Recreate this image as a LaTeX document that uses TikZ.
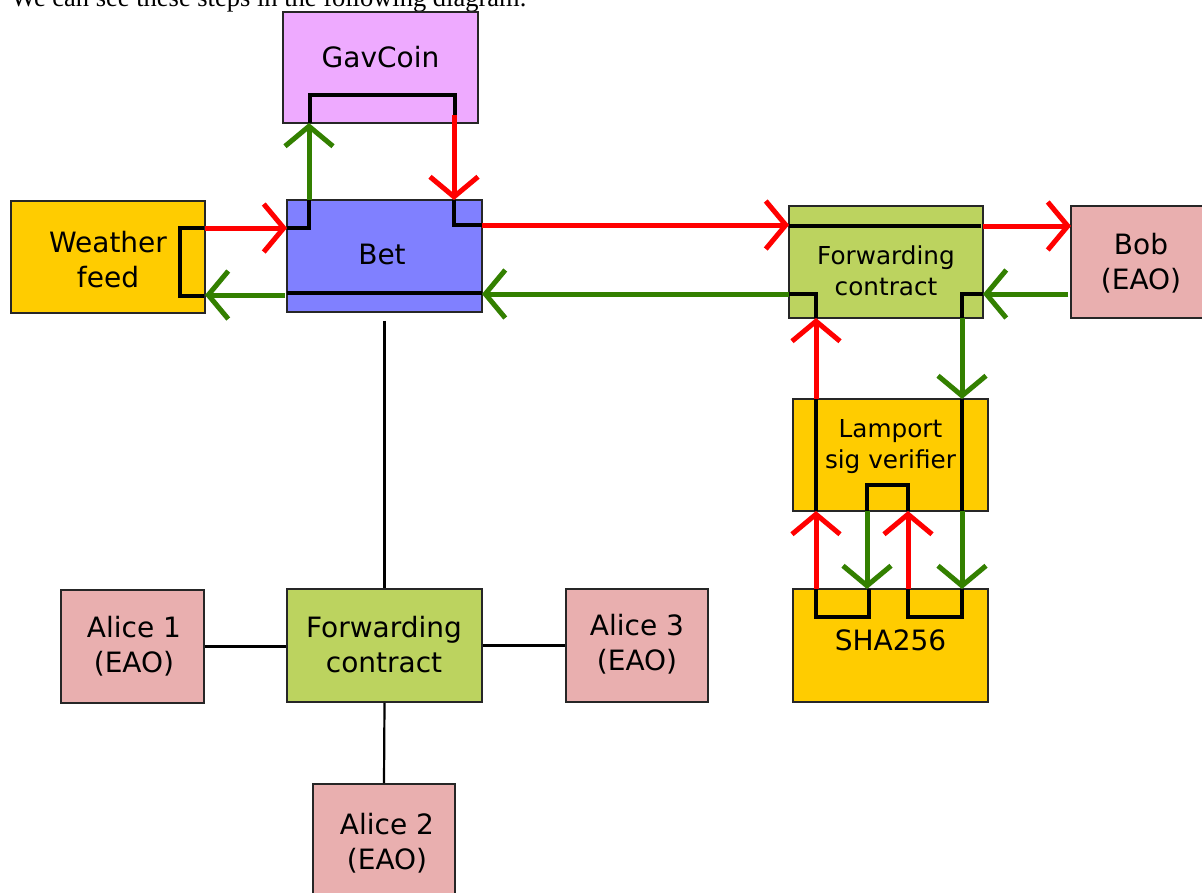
\documentclass[tikz,border=0pt]{standalone}
\usepackage{fontspec}
\newfontfamily\dv{DejaVu Sans}
\newfontfamily\tm{Liberation Serif}
\usetikzlibrary{arrows.meta}
\definecolor{cgav}{HTML}{EEAAFF}
\definecolor{cbet}{HTML}{8080FF}
\definecolor{cyel}{HTML}{FFCC00}
\definecolor{cfwd}{HTML}{BCD35F}
\definecolor{cpink}{HTML}{E9AFAF}
\definecolor{cgreen}{HTML}{338000}
\definecolor{cred}{HTML}{FF0000}
\begin{document}
\begin{tikzpicture}[x=1pt,y=-1pt,
  box/.style={draw=black!85, line width=1.6pt, inner sep=0pt, rectangle},
  lbl/.style={font=\dv\fontsize{28}{35}\selectfont, align=center, inner sep=0pt},
  lbls/.style={font=\dv\fontsize{24.7}{31}\selectfont, align=center, inner sep=0pt},
  wire/.style={line width=3.5pt, black, line join=miter},
  rarr/.style={draw=cred, line width=5pt, -{Straight Barb[length=20pt,width=48pt]}},
  garr/.style={draw=cgreen, line width=5pt, -{Straight Barb[length=20pt,width=48pt]}},
  link/.style={line width=2.2pt, black}]
\useasboundingbox (0,0) rectangle (1202,892);
\clip (0,0) rectangle (1202,892);
\fill[white] (0,0) rectangle (1202,892);

\node[anchor=base west, font=\tm\fontsize{26.5}{30}\selectfont, inner sep=0pt] (cap) at (11,6) {We can see these steps in the following diagram.};

% boxes
\node[box, fill=cgav, minimum width=195pt, minimum height=111pt] (gav) at (380.5,67.5) {};
\node[box, fill=cbet, minimum width=195pt, minimum height=112pt] (bet) at (384.5,256) {};
\node[box, fill=cyel, minimum width=194pt, minimum height=112pt] (wf) at (108,257) {};
\node[box, fill=cfwd, minimum width=194pt, minimum height=112pt] (fwr) at (886,262) {};
\node[box, fill=cpink, minimum width=143pt, minimum height=112pt] (bob) at (1142.5,262) {};
\node[box, fill=cyel, minimum width=195pt, minimum height=112pt] (lam) at (890.5,455) {};
\node[box, fill=cyel, minimum width=195pt, minimum height=113pt] (sha) at (890.5,645.5) {};
\node[box, fill=cfwd, minimum width=195pt, minimum height=113pt] (fwb) at (384.5,645.5) {};
\node[box, fill=cpink, minimum width=143pt, minimum height=113pt] (a1) at (132.5,646.5) {};
\node[box, fill=cpink, minimum width=142pt, minimum height=113pt] (a3) at (637,645.5) {};
\node[box, fill=cpink, minimum width=142pt, minimum height=112pt] (a2) at (384,840) {};

% labels
\node[lbl] (tgav) at (380.5,57) {GavCoin};
\node[lbl] (tbet) at (382,254) {Bet};
\node[lbl] (twf) at (108,259.5) {Weather\\feed};
\node[lbl] (tbob) at (1141,263.5) {Bob\\(EAO)};
\node[lbls] (tfwr) at (886,270.5) {Forwarding\\contract};
\node[lbls] (tlam) at (890.5,447) {Lamport\\sig verifier};
\node[lbl] (tsha) at (890.5,640) {SHA256};
\node[lbl] (tfwb) at (384,644.5) {Forwarding\\contract};
\node[lbl] (ta1) at (134,646.5) {Alice 1\\(EAO)};
\node[lbl] (ta3) at (637,644.5) {Alice 3\\(EAO)};
\node[lbl] (ta2) at (387,843.5) {Alice 2\\(EAO)};

% thin links
\draw[link] ([yshift=-8pt]bet.south) -- (fwb.north);
\draw[link] (a1.east) -- (a1.east -| fwb.west);
\draw[link] (fwb.east) -- (fwb.east -| a3.west);
\draw[link] (fwb.south) -- (a2.north);

% ports
\coordinate (wfR) at (205,228);
\coordinate (wfG) at (205,295);
\coordinate (betRl) at (287,228);
\coordinate (betGl) at (285,295);
\coordinate (betT1) at (309,200);
\coordinate (gavB1) at (309,123);
\coordinate (gavB2) at (454,115);
\coordinate (betT2) at (454,200);
\coordinate (betRr) at (482,225);
\coordinate (betGr) at (482,294);
\coordinate (fwrL1) at (789,225);
\coordinate (fwrL2) at (789,294);
\coordinate (fwrR1) at (983,226);
\coordinate (fwrR2) at (983,294);
\coordinate (bobL1) at (1071,226);
\coordinate (bobL2) at (1068,294);
\coordinate (fwrB1) at (816,318);
\coordinate (fwrB2) at (962,318);
\coordinate (lamT1) at (816,399);
\coordinate (lamT2) at (962,399);
\coordinate (lamB1) at (816,511);
\coordinate (lamB2) at (867,511);
\coordinate (lamB3) at (908,511);
\coordinate (lamB4) at (962,511);
\coordinate (shaT1) at (816,589);
\coordinate (shaT2) at (867,589);
\coordinate (shaT3) at (908,589);
\coordinate (shaT4) at (962,589);

% black internal wiring
\draw[wire] (204,228) -- (180,228) -- (180,296) -- (204,296);
\draw[wire] (betRl) -- (309,228) -- (betT1);
\draw[wire] (310,123) -- (310,95) -- (455,95) -- (455,122);
\draw[wire] (betT2) -- (454,225) -- (betRr);
\draw[wire] (287,293) -- (482,293);
\draw[wire] (fwrL1 |- 0,226) -- (981,226);
\draw[wire] (fwrR2) -- (962,294) -- (fwrB2);
\draw[wire] (lamT2) -- (lamB4);
\draw[wire] (shaT4) -- (962,617) -- (908,617) -- (shaT3);
\draw[wire] (lamB3) -- (908,485) -- (867,485) -- (lamB2);
\draw[wire] (869,589) -- (869,617) -- (816,617) -- (shaT1);
\draw[wire] (lamB1) -- (lamT1);
\draw[wire] (fwrB1) -- (816,294) -- (fwrL2);

% coloured flows
\draw[rarr] (wfR) -- (betRl);
\draw[garr] (betGl) -- (wfG);
\draw[garr] (betT1) -- (gavB1);
\draw[rarr] (gavB2) -- (betT2);
\draw[rarr] (betRr) -- (fwrL1);
\draw[rarr] (fwrR1) -- (bobL1);
\draw[garr] (bobL2) -- (fwrR2);
\draw[garr] (fwrB2) -- (lamT2);
\draw[garr] (lamB4) -- (shaT4);
\draw[rarr] (shaT3) -- (lamB3);
\draw[garr] (lamB2) -- (shaT2);
\draw[rarr] (shaT1) -- (lamB1);
\draw[rarr] (lamT1) -- (fwrB1);
\draw[garr] (fwrL2) -- (betGr);
\end{tikzpicture}
\end{document}
